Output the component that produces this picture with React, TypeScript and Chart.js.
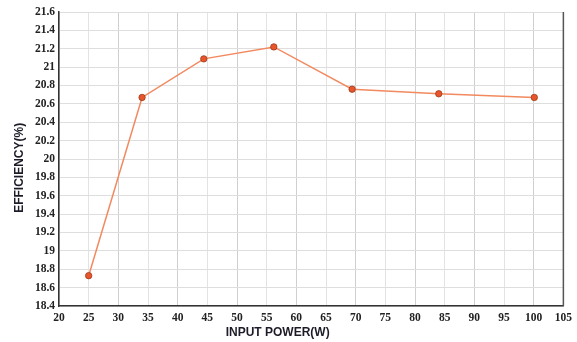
import React, { useEffect, useRef } from "react";
import { Chart, registerables } from "chart.js";

Chart.register(...registerables);

const inputPower = [25, 34, 44.4, 56.2, 69.4, 84, 100.1];
const efficiency = [18.73, 20.67, 21.09, 21.22, 20.76, 20.71, 20.67];
const xTitle = "INPUT POWER(W)";
const yTitle = "EFFICIENCY(%)";

export default function App() {
  const ref = useRef<HTMLCanvasElement | null>(null);
  useEffect(() => {
    if (!ref.current) return;
    const tickFont = { family: '"Liberation Serif", "Times New Roman", serif', size: 11.5, weight: "bold" as const };
    const titlePlugin = {
      id: "titles",
      afterDraw(chart: any) {
        const { ctx, chartArea } = chart;
        ctx.save();
        ctx.strokeStyle = "#555";
        ctx.lineWidth = 1.5;
        ctx.beginPath();
        ctx.moveTo(chartArea.right, chartArea.top);
        ctx.lineTo(chartArea.right, chartArea.bottom);
        ctx.stroke();
        ctx.fillStyle = "#1c1c28";
        ctx.font = 'bold 12px "Liberation Sans", Arial, sans-serif';
        ctx.textAlign = "center";
        ctx.textBaseline = "middle";
        ctx.fillText(xTitle, chartArea.left + (chartArea.right - chartArea.left) * 0.4335, 333);
        ctx.translate(20, chartArea.top + (chartArea.bottom - chartArea.top) * 0.53);
        ctx.rotate(-Math.PI / 2);
        ctx.fillText(yTitle, 0, 0);
        ctx.restore();
      },
    };
    const chart = new Chart(ref.current, {
      type: "line",
      data: {
        datasets: [
          {
            data: inputPower.map((x, i) => ({ x, y: efficiency[i] })),
            borderColor: "#F2895F",
            borderWidth: 1.5,
            backgroundColor: "#E8552A",
            pointBackgroundColor: "#E8552A",
            pointBorderColor: "#9C3B1C",
            pointBorderWidth: 0.8,
            pointRadius: 3.2,
            tension: 0,
          },
        ],
      },
      options: {
        animation: false,
        responsive: false,
        layout: { padding: { left: 0, top: 12, right: 13, bottom: 0 } },
        plugins: { legend: { display: false }, tooltip: { enabled: false } },
        scales: {
          x: {
            type: "linear",
            min: 20,
            max: 105,
            ticks: { stepSize: 5, font: tickFont, color: "#222", padding: 5, maxRotation: 0, autoSkip: false },
            grid: {
              drawTicks: false,
              color: (c: any) => (c.tick && c.tick.value % 10 === 0 ? "#cfcfcf" : "#e3e3e3"),
              lineWidth: 1,
            },
            border: { color: "#333", width: 1.5 },
            afterFit: (s: any) => {
              s.height = 36;
            },
          },
          y: {
            type: "linear",
            min: 18.4,
            max: 21.6,
            ticks: {
              stepSize: 0.2,
              font: tickFont,
              color: "#222",
              padding: 4,
              autoSkip: false,
              callback: (v: any) => String(Math.round(Number(v) * 10) / 10),
            },
            grid: { drawTicks: false, color: "#dedede", lineWidth: 1 },
            border: { color: "#333", width: 1.5 },
            afterFit: (s: any) => {
              s.width = 59;
            },
          },
        },
      },
      plugins: [titlePlugin],
    });
    return () => chart.destroy();
  }, []);
  return (
    <div style={{ position: "fixed", left: 0, top: 0, width: 577, height: 342, background: "#fff" }}>
      <canvas ref={ref} width={577} height={342} />
    </div>
  );
}
